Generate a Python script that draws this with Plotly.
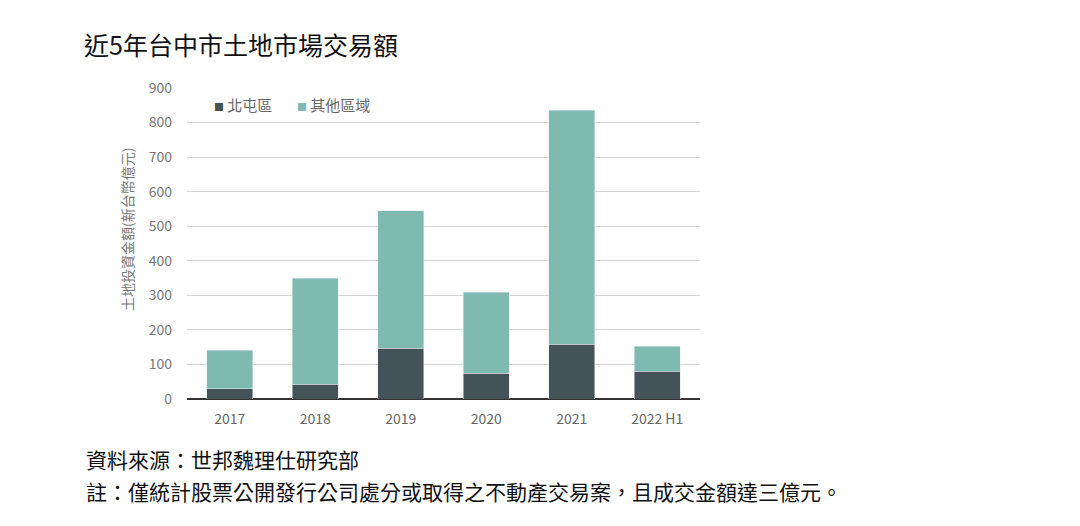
import plotly.graph_objects as go

years = ["2017", "2018", "2019", "2020", "2021", "2022 H1"]
beitun = [29, 43, 147, 74, 158, 80]
others = [112, 307, 398, 235, 678, 72]
y_ticks = [0, 100, 200, 300, 400, 500, 600, 700, 800, 900]
series_names = ["北屯區", "其他區域"]
series_colors = ["#435357", "#7fbab0"]

FONT = "Noto Sans CJK TC, Noto Sans, sans-serif"
W, H = 1080, 526
L, R, T, B = 187, 380, 88, 127
pw, ph = W - L - R, H - T - B

def px_x(x):
    return (x - L) / pw

def px_y(y):
    return (H - B - y) / ph

fig = go.Figure()
fig.add_trace(go.Bar(x=years, y=beitun, name=series_names[0], marker_color=series_colors[0]))
fig.add_trace(go.Bar(x=years, y=others, name=series_names[1], marker_color=series_colors[1]))

fig.update_layout(
    width=W, height=H,
    barmode="stack", bargap=0.46,
    margin=dict(l=L, r=R, t=T, b=B),
    paper_bgcolor="white", plot_bgcolor="white",
    font=dict(family=FONT, color="#666666", size=14),
    title=dict(text="近5年台中市土地市場交易額", x=84 / W, xanchor="left",
               y=1 - 46 / H, yanchor="middle",
               font=dict(size=25, color="#111111", family=FONT)),
    showlegend=False,
)
fig.update_xaxes(showgrid=False, showline=False, ticks="", tickfont=dict(size=14, color="#666666"),
                 ticklabelstandoff=10)
fig.update_yaxes(range=[0, 900], tickvals=y_ticks, showgrid=True, gridcolor="#d3d3d3", gridwidth=1,
                 zeroline=True, zerolinecolor="#333333", zerolinewidth=1.5, showline=False,
                 tickfont=dict(size=14, color="#777777"), ticklabelstandoff=14)

# legend as annotations
leg_x = [212, 295]
for name, color, lx in zip(series_names, series_colors, leg_x):
    fig.add_annotation(text=f"<span style='color:{color};font-size:10px'>■</span> {name}",
                       xref="paper", yref="paper", x=px_x(lx), y=px_y(104),
                       xanchor="left", yanchor="middle", showarrow=False,
                       font=dict(size=15, color="#666666"))

fig.add_annotation(text="土地投資金額(新台幣億元)", textangle=-90, xref="paper", yref="paper",
                   x=px_x(127), y=px_y(230), xanchor="center", yanchor="middle", showarrow=False,
                   font=dict(size=14, color="#777777"))
fig.add_annotation(text="資料來源：世邦魏理仕研究部", xref="paper", yref="paper",
                   x=px_x(84), y=px_y(459), xanchor="left", yanchor="middle", showarrow=False,
                   font=dict(size=21, color="#111111"))
fig.add_annotation(text="註：僅統計股票公開發行公司處分或取得之不動產交易案，且成交金額達三億元。",
                   xref="paper", yref="paper",
                   x=px_x(84), y=px_y(491), xanchor="left", yanchor="middle", showarrow=False,
                   font=dict(size=21, color="#111111"))

fig.write_html("out.html")
